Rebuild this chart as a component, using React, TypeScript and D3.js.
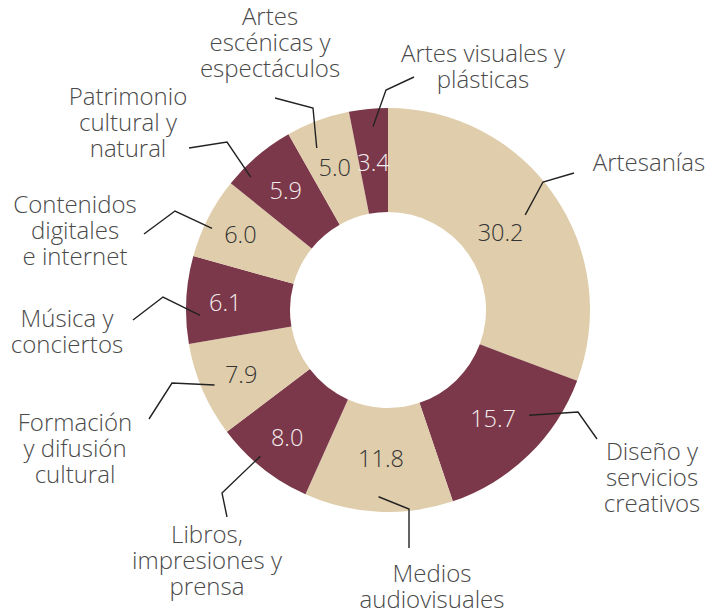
import React from "react";
import * as d3 from "d3";

// Categories (clockwise from 12 o'clock); "\n" marks the label line breaks
const categories = [
  "Artesanías",
  "Diseño y\nservicios\ncreativos",
  "Medios\naudiovisuales",
  "Libros,\nimpresiones y\nprensa",
  "Formación\ny difusión\ncultural",
  "Música y\nconciertos",
  "Contenidos\ndigitales\ne internet",
  "Patrimonio\ncultural y\nnatural",
  "Artes\nescénicas y\nespectáculos",
  "Artes visuales y\nplásticas",
];
// Printed percentage labels
const printedValues = [30.2, 15.7, 11.8, 8.0, 7.9, 6.1, 6.0, 5.9, 5.0, 3.4];
// Slice sizes as actually drawn in the picture (%)
const drawnShares = [30.7, 14.1, 11.9, 8.0, 7.6, 7.0, 6.5, 6.0, 5.1, 3.1];

// Layout (annotation placement), not data
const W = 721, H = 614;
const CX = 388, CY = 310;
const R_OUT = 202, R_IN = 98;
const BEIGE = "#dfcdab";
const MAROON = "#7b384a";
const FONT = "'Open Sans', 'Noto Sans', sans-serif";
const LINE_H = 25.8;

const valueRadius = [137, 151, 148, 162, 160, 163, 166, 158, 153, 149];
const leaderLayout = [
  { off: 0, r: 167, elbow: [543, 182], end: [574, 173], label: [649, 171] },
  { off: -9.2, r: 176, elbow: [578, 412], end: [597, 439], label: [652, 460] },
  { off: 0.2, r: 187, elbow: [409, 509], end: [409, 548], label: [432, 582] },
  { off: 2.6, r: 194, elbow: [222, 493], end: [227, 517], label: [207, 543] },
  { off: 0, r: 189, elbow: [172, 383], end: [149, 419], label: [75, 431] },
  { off: -4.5, r: 188, elbow: [163, 297], end: [133, 320], label: [67, 327] },
  { off: -2.3, r: 194, elbow: [175, 211], end: [144, 234], label: [75, 213] },
  { off: -5.6, r: 191, elbow: [227, 142], end: [189, 148], label: [128, 105] },
  { off: -3.4, r: 177, elbow: [313, 108], end: [275, 98], label: [270, 25] },
  { off: 0.9, r: 184, elbow: [386, 90], end: [414, 77], label: [483, 62] },
];

export default function App() {
  const pie = d3
    .pie<number>()
    .sort(null)
    .value((d) => d)
    .startAngle(0)
    .endAngle(2 * Math.PI);
  const arcs = pie(drawnShares);
  const arcGen = d3.arc<d3.PieArcDatum<number>>().innerRadius(R_IN).outerRadius(R_OUT);
  const line = d3.line();

  return (
    <svg
      width={W}
      height={H}
      style={{ position: "absolute", left: 0, top: 0, background: "#fff" }}
      fontFamily={FONT}
    >
      <g transform={`translate(${CX},${CY})`}>
        {arcs.map((a, i) => (
          <path key={i} d={arcGen(a) || ""} fill={i % 2 === 0 ? BEIGE : MAROON} />
        ))}
        {arcs.map((a, i) => {
          const mid = (a.startAngle + a.endAngle) / 2;
          const r = valueRadius[i];
          const x = Math.sin(mid) * r;
          const y = -Math.cos(mid) * r;
          return (
            <text
              key={"v" + i}
              x={x}
              y={y}
              textAnchor="middle"
              dominantBaseline="central"
              fontSize={23.5}
              fontWeight={300}
              fill={i % 2 === 0 ? "#333333" : "#f4eeee"}
            >
              {printedValues[i].toFixed(1)}
            </text>
          );
        })}
      </g>
      {arcs.map((a, i) => {
        const L = leaderLayout[i];
        const ang = (a.startAngle + a.endAngle) / 2 + (L.off * Math.PI) / 180;
        const start: [number, number] = [CX + Math.sin(ang) * L.r, CY - Math.cos(ang) * L.r];
        const pts: [number, number][] = [start, L.elbow as [number, number], L.end as [number, number]];
        return (
          <path
            key={"l" + i}
            d={line(pts) || ""}
            fill="none"
            stroke="#222"
            strokeWidth={1.4}
          />
        );
      })}
      {categories.map((c, i) => {
        const L = leaderLayout[i];
        return (
          <text
            key={"c" + i}
            x={L.label[0]}
            y={L.label[1]}
            textAnchor="middle"
            fontSize={24}
            fontWeight={300}
            fill="#4a4a4a"
          >
            {c.split("\n").map((ln, j) => (
              <tspan key={j} x={L.label[0]} dy={j === 0 ? 0 : LINE_H}>
                {ln}
              </tspan>
            ))}
          </text>
        );
      })}
    </svg>
  );
}
